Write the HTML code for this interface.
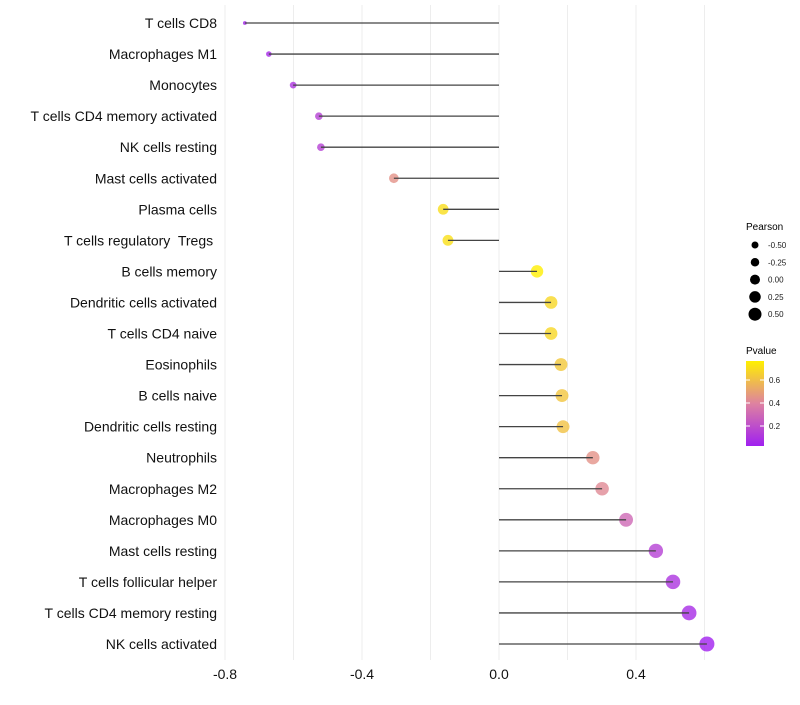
<!DOCTYPE html>
<html><head><meta charset="utf-8"><style>
body{margin:0;background:#fff;font-family:"Liberation Sans",sans-serif;}
text{white-space:pre;}
</style></head><body>
<svg id="chart" width="800" height="700" xmlns="http://www.w3.org/2000/svg" font-family="Liberation Sans, sans-serif">
<defs><linearGradient id="pg" x1="0" y1="1" x2="0" y2="0">
<stop offset="0" stop-color="#a020f0"/><stop offset="0.5" stop-color="#de82a0"/><stop offset="1" stop-color="#fff000"/></linearGradient></defs>
<g id="grid"></g>
<g id="marks"></g>
<g id="axes"></g>
<g id="legend">
<text x="746" y="230" font-size="10">Pearson</text>
<text x="746" y="354" font-size="10">Pvalue</text>
<rect x="746" y="361" width="18" height="85" fill="url(#pg)"/>
</g>
</svg>
<script>
const categories=["T cells CD8","Macrophages M1","Monocytes","T cells CD4 memory activated","NK cells resting","Mast cells activated","Plasma cells","T cells regulatory  Tregs ","B cells memory","Dendritic cells activated","T cells CD4 naive","Eosinophils","B cells naive","Dendritic cells resting","Neutrophils","Macrophages M2","Macrophages M0","Mast cells resting","T cells follicular helper","T cells CD4 memory resting","NK cells activated"];
const pearson=[-0.742,-0.672,-0.601,-0.526,-0.52,-0.307,-0.163,-0.149,0.111,0.152,0.152,0.181,0.184,0.187,0.274,0.301,0.371,0.458,0.508,0.555,0.607];
const pvalue=[0.05,0.06,0.1,0.15,0.15,0.45,0.7,0.71,0.76,0.68,0.68,0.63,0.62,0.61,0.45,0.42,0.3,0.15,0.1,0.07,0.03];
const xTicks=[-0.8,-0.4,0.0,0.4];
const xMinor=[-0.6,-0.2,0.2,0.6];
const sizeLegend=[-0.5,-0.25,0,0.25,0.5];
const pTicks=[0.2,0.4,0.6];
const NS="http://www.w3.org/2000/svg";
const X=v=>499+v*342.5;
const Y=i=>23+i*31.05;
const R=v=>1.2+5.4*Math.sqrt(Math.max(0,v+0.76));
const PY=p=>426-(p-0.2)*115;
function col(p){const t=Math.max(0,Math.min(1,(p-0.026)/(0.765-0.026)));
const a=[160,32,240],b=[222,130,160],c=[255,240,0];let u,s,e;
if(t<0.5){u=t/0.5;s=a;e=b}else{u=(t-0.5)/0.5;s=b;e=c}
return `rgb(${s.map((v,k)=>Math.round(v+(e[k]-v)*u)).join(",")})`;}
function mk(tag,attrs,parent,txt){const el=document.createElementNS(NS,tag);for(const k in attrs)el.setAttribute(k,attrs[k]);if(txt!==undefined)el.textContent=txt;parent.appendChild(el);return el;}
const grid=document.getElementById('grid'),marks=document.getElementById('marks'),axes=document.getElementById('axes'),leg=document.getElementById('legend');
xTicks.concat(xMinor).forEach(v=>{const l=mk('line',{x1:X(v),x2:X(v),y1:5,y2:660,stroke:'#ededed','stroke-width':1},grid);

});
categories.forEach((c,i)=>{const g=mk('g',{},marks);


mk('circle',{cx:X(pearson[i]),cy:Y(i),r:R(pearson[i]),fill:col(pvalue[i]),'fill-opacity':0.8},g);
mk('line',{x1:X(0),x2:X(pearson[i]),y1:Y(i),y2:Y(i),stroke:'#444','stroke-width':1.3},g);
const t=mk('text',{x:217,y:Y(i)+5,'text-anchor':'end','font-size':14,fill:'#111'},axes,c);

});
xTicks.forEach(v=>{const t=mk('text',{x:X(v),y:679,'text-anchor':'middle','font-size':14,fill:'#111'},axes,v.toFixed(1));

});
sizeLegend.forEach((v,i)=>{const cy=245+i*17.3;const c=mk('circle',{cx:755,cy:cy,r:3.5+(v+0.5)*3},leg);


const t=mk('text',{x:768,y:cy+3,'font-size':8,fill:'#1a1a1a'},leg,v.toFixed(2));

});
pTicks.forEach(p=>{mk('line',{x1:746,x2:750,y1:PY(p),y2:PY(p),stroke:'#fff'},leg);mk('line',{x1:760,x2:764,y1:PY(p),y2:PY(p),stroke:'#fff'},leg);
const t=mk('text',{x:769,y:PY(p)+3,'font-size':8,fill:'#1a1a1a'},leg,p.toFixed(1));

});
</script>
</body></html>
